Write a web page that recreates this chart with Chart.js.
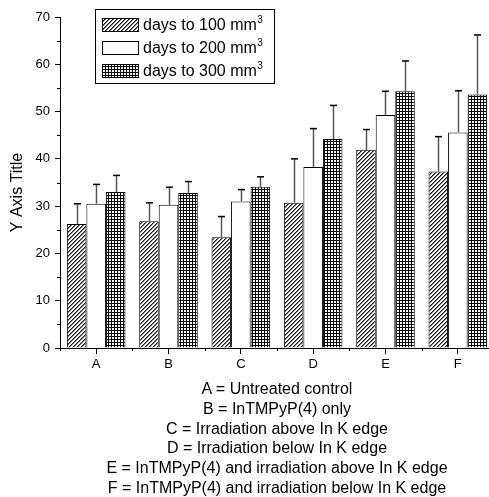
<!DOCTYPE html>
<html>
<head>
<meta charset="utf-8">
<script src="https://cdn.jsdelivr.net/npm/chart.js@4.4.1/dist/chart.umd.min.js"></script>
<style>
  html, body { margin: 0; padding: 0; overflow: hidden; background: #fff; }
  #wrap { position: relative; width: 495px; height: 497px; }
  #caption {
    position: absolute; left: 77px; top: 379px; width: 400px;
    text-align: center; font: 16px "Liberation Sans", Arial, sans-serif;
    line-height: 19.8px; color: #000;
  }
</style>
</head>
<body>
<div id="wrap">
  <canvas id="chart" width="495" height="497"></canvas>
  <div id="caption">
    A = Untreated control<br>
    B = InTMPyP(4) only<br>
    C = Irradiation above In K edge<br>
    D = Irradiation below In K edge<br>
    E = InTMPyP(4) and irradiation above In K edge<br>
    F = InTMPyP(4) and irradiation below In K edge
  </div>
</div>
<script>
// data
const categories = ['A', 'B', 'C', 'D', 'E', 'F'];
const seriesNames = ['days to 100 mm', 'days to 200 mm', 'days to 300 mm'];
const days100 = [26.2, 26.8, 23.4, 30.7, 41.9, 37.3];
const days200 = [30.5, 30.3, 31.0, 38.3, 49.3, 45.6];
const days300 = [33.0, 32.8, 34.1, 44.2, 54.3, 53.6];
const err100 = [4.3, 3.9, 4.4, 9.3, 4.3, 7.4];
const err200 = [4.1, 3.7, 2.5, 8.1, 5.0, 8.8];
const err300 = [3.5, 2.4, 2.1, 7.1, 6.4, 12.6];
const yTicks = [0, 10, 20, 30, 40, 50, 60, 70];

const FONT = '"Liberation Sans", Arial, sans-serif';

function makeHatch() {
  const c = document.createElement('canvas');
  c.width = 4; c.height = 4;
  const ctx = c.getContext('2d');
  ctx.fillStyle = '#fff';
  ctx.fillRect(0, 0, 4, 4);
  for (let x = 0; x < 4; x++) {
    for (let y = 0; y < 4; y++) {
      const k = (x + y) % 4;
      if (k === 3) { ctx.fillStyle = '#1a1a1a'; ctx.fillRect(x, y, 1, 1); }
      if (k === 0) { ctx.fillStyle = '#777'; ctx.fillRect(x, y, 1, 1); }
    }
  }
  return ctx.createPattern(c, 'repeat');
}

function makeGrid() {
  const c = document.createElement('canvas');
  c.width = 3; c.height = 3;
  const ctx = c.getContext('2d');
  ctx.fillStyle = '#fff';
  ctx.fillRect(0, 0, 3, 3);
  ctx.fillStyle = '#000';
  ctx.fillRect(0, 0, 3, 1);
  ctx.fillRect(0, 0, 1, 3);
  return ctx.createPattern(c, 'repeat');
}

const fills = [makeHatch(), '#ffffff', makeGrid()];
const values = [days100, days200, days300];
const errors = [err100, err200, err300];

const extras = {
  id: 'extras',
  afterDatasetsDraw(chart) {
    const ctx = chart.ctx;
    const y = chart.scales.y;
    ctx.save();
    chart.data.datasets.forEach((ds, di) => {
      const meta = chart.getDatasetMeta(di);
      meta.data.forEach((bar, i) => {
        const top = y.getPixelForValue(ds.data[i] + errors[di][i]);
        const x = Math.round(bar.x) + 0.5;
        ctx.strokeStyle = '#555';
        ctx.lineWidth = 1.5;
        ctx.beginPath();
        ctx.moveTo(x, bar.y);
        ctx.lineTo(x, top);
        ctx.stroke();
        ctx.strokeStyle = '#000';
        ctx.lineWidth = 1.5;
        ctx.beginPath();
        ctx.moveTo(x - 3.5, top);
        ctx.lineTo(x + 3.5, top);
        ctx.stroke();
      });
    });
    ctx.restore();
  },
  afterDraw(chart) {
    const ctx = chart.ctx;
    const xs = chart.scales.x;
    const ys = chart.scales.y;
    const area = chart.chartArea;
    ctx.save();
    ctx.strokeStyle = '#000';
    ctx.lineWidth = 1;

    // minor ticks
    ctx.beginPath();
    for (let v = 5; v < 70; v += 10) {
      const py = Math.round(ys.getPixelForValue(v)) + 0.5;
      ctx.moveTo(area.left - 3, py);
      ctx.lineTo(area.left, py);
    }
    const step = (xs.right - xs.left) / categories.length;
    for (let i = 0; i <= categories.length; i++) {
      const px = Math.round(xs.left + i * step) + 0.5;
      ctx.moveTo(px, area.bottom);
      ctx.lineTo(px, area.bottom + 3);
    }
    ctx.stroke();

    // y title
    ctx.save();
    ctx.translate(17.5, 192.5);
    ctx.rotate(-Math.PI / 2);
    ctx.fillStyle = '#000';
    ctx.font = '16px ' + FONT;
    ctx.textAlign = 'center';
    ctx.textBaseline = 'middle';
    ctx.fillText('Y Axis Title', 0, 0);
    ctx.restore();

    // legend
    ctx.fillStyle = '#fff';
    ctx.fillRect(95.5, 9.5, 179, 74);
    ctx.strokeRect(95.5, 9.5, 179, 74);
    const rows = [25, 48, 71];
    seriesNames.forEach((name, i) => {
      const cy = rows[i];
      ctx.fillStyle = fills[i];
      ctx.fillRect(102.5, cy - 6.5, 36, 13);
      ctx.strokeRect(102.5, cy - 6.5, 36, 13);
      ctx.fillStyle = '#000';
      ctx.font = '16px ' + FONT;
      ctx.textAlign = 'left';
      ctx.textBaseline = 'middle';
      ctx.fillText(name, 143, cy + 1);
      const w = ctx.measureText(name).width;
      ctx.font = '10px ' + FONT;
      ctx.fillText('3', 143 + w + 0.5, cy - 5);
    });
    ctx.restore();
  }
};

new Chart(document.getElementById('chart'), {
  type: 'bar',
  data: {
    labels: categories,
    datasets: values.map((data, i) => ({
      label: seriesNames[i],
      data,
      backgroundColor: fills[i],
      borderColor: '#000',
      borderWidth: 1,
      categoryPercentage: 0.81,
      barPercentage: 1.0
    }))
  },
  options: {
    responsive: false,
    devicePixelRatio: 1,
    animation: false,
    layout: { padding: { top: 17, left: 0, right: 1, bottom: 0 } },
    plugins: { legend: { display: false }, tooltip: { enabled: false } },
    scales: {
      x: {
        afterFit(scale) { scale.height = 149; },
        grid: { offset: false, drawOnChartArea: false, drawTicks: true, tickLength: 6, color: '#000' },
        border: { color: '#000', width: 1 },
        ticks: { color: '#000', font: { family: FONT, size: 13 }, padding: 3 }
      },
      y: {
        min: 0,
        max: 70,
        afterFit(scale) { scale.width = 60; },
        afterBuildTicks(scale) { scale.ticks = yTicks.map(v => ({ value: v })); },
        grid: { drawOnChartArea: false, drawTicks: true, tickLength: 5, color: '#000' },
        border: { color: '#000', width: 1 },
        ticks: { color: '#000', font: { family: FONT, size: 13 }, padding: 5 }
      }
    }
  },
  plugins: [extras]
});
</script>
</body>
</html>
